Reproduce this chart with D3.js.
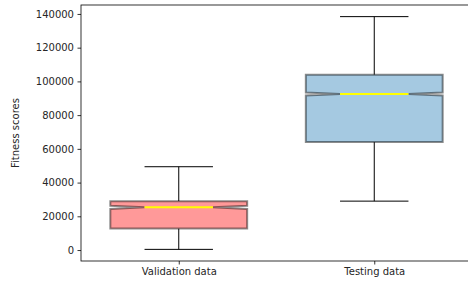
<!DOCTYPE html>
<html>
<head>
<meta charset="utf-8">
<script src="https://cdn.jsdelivr.net/npm/d3@7"></script>
<style>
  body { margin: 0; background: #fff; }
  text { font-family: "DejaVu Sans", sans-serif; font-size: 10px; fill: #262626; }
</style>
</head>
<body>
<svg id="chart" width="468" height="286"></svg>
<script>
// box plot stats
var categories = ["Validation data", "Testing data"];
var whiskerLow  = [400, 29000];
var q1          = [12800, 64000];
var medians     = [25300, 92500];
var q3          = [29000, 103900];
var whiskerHigh = [49400, 138400];
var notchLow    = [24400, 91600];
var notchHigh   = [26200, 93400];
var fills = ["#ff9999", "#a5c9e1"];
var yTicks = [0, 20000, 40000, 60000, 80000, 100000, 120000, 140000];

var svg = d3.select("#chart");
var plotLeft = 81, plotRight = 472, plotTop = 5, plotBottom = 261;

var x = d3.scaleLinear().domain([0.5, 2.5]).range([plotLeft, plotRight]);
var y = d3.scaleLinear().domain([-6500, 145300]).range([plotBottom, plotTop]);

var boxW = 0.7, capW = 0.35, notchW = 0.35;

// axes
var yAxis = d3.axisLeft(y).tickValues(yTicks).tickSize(3.5).tickPadding(3.5).tickFormat(d3.format("d"));
var gy = svg.append("g").attr("transform", "translate(" + plotLeft + ",0)").call(yAxis);
gy.select(".domain").remove();
gy.selectAll("line").attr("stroke", "#000").attr("stroke-width", 0.8);

var xAxis = d3.axisBottom(x).tickValues([1, 2]).tickSize(3.5).tickPadding(3.5)
    .tickFormat(function(d) { return categories[d - 1]; });
var gx = svg.append("g").attr("transform", "translate(0," + plotBottom + ")").call(xAxis);
gx.select(".domain").remove();
gx.selectAll("line").attr("stroke", "#000").attr("stroke-width", 0.8);

svg.selectAll(".tick text").style("font-family", "DejaVu Sans").style("font-size", "10px").attr("fill", "#262626");

// frame
svg.append("rect")
    .attr("x", plotLeft).attr("y", plotTop)
    .attr("width", plotRight - plotLeft).attr("height", plotBottom - plotTop)
    .attr("fill", "none").attr("stroke", "#000").attr("stroke-width", 0.8);

svg.append("text")
    .attr("transform", "translate(19," + ((plotTop + plotBottom) / 2) + ") rotate(-90)")
    .attr("text-anchor", "middle")
    .text("Fitness scores");

var data = categories.map(function(c, i) { return i; });

var g = svg.append("g").selectAll("g").data(data).enter().append("g");

// whiskers
g.append("line")
    .attr("x1", function(i) { return x(i + 1); }).attr("x2", function(i) { return x(i + 1); })
    .attr("y1", function(i) { return y(q3[i]); }).attr("y2", function(i) { return y(whiskerHigh[i]); })
    .attr("stroke", "#000");
g.append("line")
    .attr("x1", function(i) { return x(i + 1); }).attr("x2", function(i) { return x(i + 1); })
    .attr("y1", function(i) { return y(q1[i]); }).attr("y2", function(i) { return y(whiskerLow[i]); })
    .attr("stroke", "#000");

// caps
[whiskerHigh, whiskerLow].forEach(function(arr) {
  g.append("line")
      .attr("x1", function(i) { return x(i + 1 - capW / 2); })
      .attr("x2", function(i) { return x(i + 1 + capW / 2); })
      .attr("y1", function(i) { return y(arr[i]); })
      .attr("y2", function(i) { return y(arr[i]); })
      .attr("stroke", "#000");
});

// notched boxes
g.append("path")
    .attr("d", function(i) {
      var x0 = x(i + 1 - boxW / 2), x1 = x(i + 1 + boxW / 2);
      var n0 = x(i + 1 - notchW / 2), n1 = x(i + 1 + notchW / 2);
      var p = d3.path();
      p.moveTo(x0, y(q3[i]));
      p.lineTo(x1, y(q3[i]));
      p.lineTo(x1, y(notchHigh[i]));
      p.lineTo(n1, y(medians[i]));
      p.lineTo(x1, y(notchLow[i]));
      p.lineTo(x1, y(q1[i]));
      p.lineTo(x0, y(q1[i]));
      p.lineTo(x0, y(notchLow[i]));
      p.lineTo(n0, y(medians[i]));
      p.lineTo(x0, y(notchHigh[i]));
      p.closePath();
      return p.toString();
    })
    .attr("fill", function(i) { return fills[i]; })
    .attr("stroke", "#000")
    .attr("stroke-opacity", 0.45)
    .attr("stroke-width", 2);

// medians
g.append("line")
    .attr("x1", function(i) { return x(i + 1 - notchW / 2); })
    .attr("x2", function(i) { return x(i + 1 + notchW / 2); })
    .attr("y1", function(i) { return y(medians[i]); })
    .attr("y2", function(i) { return y(medians[i]); })
    .attr("stroke", "#ffff00")
    .attr("stroke-width", 2);
</script>
</body>
</html>
